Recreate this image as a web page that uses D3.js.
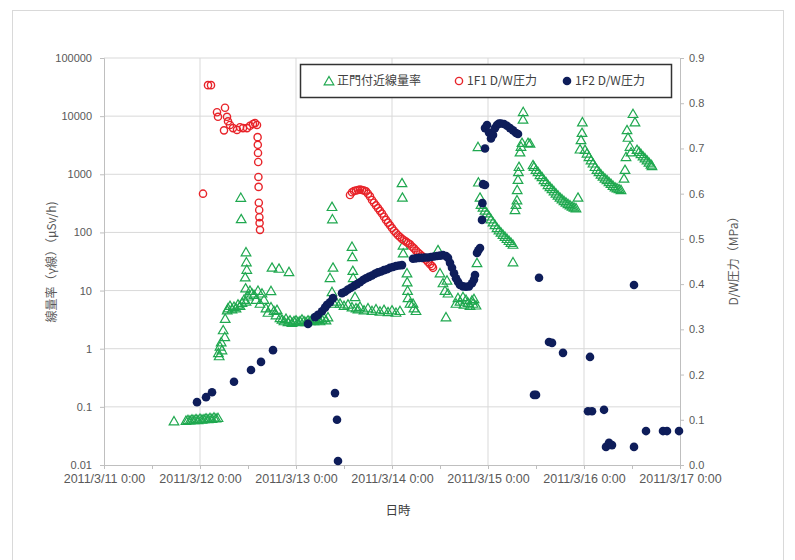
<!DOCTYPE html>
<html>
<head>
<meta charset="utf-8">
<script src="https://cdn.jsdelivr.net/npm/d3@7"></script>
<style>
  body { margin: 0; background: #fff; }
  svg text { font-family: "Noto Sans CJK JP", "Noto Sans", sans-serif; }
</style>
</head>
<body>
<div id="chart"></div>
<script>
// hours since 2011/3/11 0:00, value
const dayLabels = ["2011/3/11 0:00", "2011/3/12 0:00", "2011/3/13 0:00", "2011/3/14 0:00",
  "2011/3/15 0:00", "2011/3/16 0:00", "2011/3/17 0:00"];
const doseTicks = [0.01, 0.1, 1, 10, 100, 1000, 10000, 100000];
const pressTicks = [0, 0.1, 0.2, 0.3, 0.4, 0.5, 0.6, 0.7, 0.8, 0.9];
const seriesNames = ["正門付近線量率", "1F1 D/W圧力", "1F2 D/W圧力"];

// 正門付近線量率 (μSv/h)
const gateDose = [
  [17.5,0.057],
  [20.5,0.058],[21,0.060],[21.5,0.059],[22,0.061],[22.5,0.060],[23,0.062],[23.5,0.060],[24,0.063],
  [24.5,0.061],[25,0.062],[25.5,0.064],[26,0.062],[26.5,0.065],[27,0.063],[27.5,0.066],[28,0.064],[28.5,0.065],
  [28.6,0.85],[28.8,0.75],[29,1.1],[29.3,1.3],[29.5,0.95],[29.8,2.1],[30.2,1.6],[30.3,3.3],[30.8,4.6],
  [31,5.0],[31.5,5.5],[32,4.8],[32.5,5.3],[33,5.0],[33.5,5.8],[34,5.5],[34.5,6.2],[35,7.0],[35.5,6.5],[36,8.0],[36.5,10],
  [34.2,398],[34.3,171],[35.3,17],[35.4,11],[35.5,46],[35.6,31],[35.7,23],
  [37,9],[37.5,8.5],[38,7],[38.5,10],[39,6],[39.5,9],[40,7],[40.5,5],[41,4.2],[41.75,9.9],[41.75,5.2],[42,25],
  [42.5,4.5],[43,3.8],[43.25,4.7],[43.75,24],[44,3.4],[44.5,3.2],[45,3.0],[46.25,21],[45.5,3.3],[46,2.9],
  [46.5,3.1],[47,2.8],[47.5,3.0],[48,3.1],[48.5,2.9],[49,3.0],[49.5,3.2],[50,3.0],[50.5,2.9],[51,3.1],
  [51.5,3.0],[52,3.2],[52.5,3.0],[53,3.1],[53.5,3.3],[54,3.0],[54.5,3.2],[55,3.4],[55.5,3.1],[56,3.5],
  [56.5,16.6],[57,9.5],[57,277],[57.1,170],[57.25,25],[57.5,6],[58,6.5],[59,6.0],[60,5.5],[61,5.8],[62,5.2],
  [62,57],[62.1,38],[62.2,22],[62.3,16.6],[62.75,7.8],[63,5.0],[63.5,4.8],[64,5.3],[65,4.6],[66,5.0],[67,4.5],
  [68,4.8],[69,4.4],[70,4.7],[71,4.3],[72,4.6],[73,4.2],[74,4.5],
  [74.5,710],[74.6,400],[74.75,60],[74.8,44],[75.75,20],[75.8,14],[75.9,10],[76,7.5],[76.5,6],[77.25,6],[77.5,5],[78,4.5],
  [83.5,50],[84,20],[84.75,13.5],[85.25,10],[85.5,3.5],[85.75,15],[86,9],
  [88,6],[88.5,7.5],[89,6.5],[89.75,7.8],[90,5.8],[90.5,7],[91,6.2],[91.5,5.5],[92,6.8],[92.25,6],[92.5,7.2],[93,5.6],
  [93.25,30],[93.5,2970],[93.6,730],[94,400],
  [94.25,300],[94.75,270],[95.25,240],[95.75,215],[96.25,190],[96.75,170],[97.25,150],[97.75,135],[98.25,120],
  [98.75,110],[99.25,100],[99.75,92],[100.25,85],[100.75,78],[101.25,72],[101.75,67],[102.25,62],[102.25,31],
  [102.75,245],[103,300],[103.25,360],[103.3,540],[103.5,810],[103.6,1100],[103.75,1350],[104,2400],[104.25,3000],
  [104.5,3500],[104.75,8800],[104.8,11900],[106,3500],[106.5,3400],
  [107.25,1450],[107.5,1350],[108,1200],[108.5,1100],[109,980],[109.5,900],[110,800],[110.5,740],[111,660],
  [111.5,610],[112,560],[112.5,515],[113,470],[113.5,435],[114,400],[114.5,375],[115,350],[115.5,330],[116,310],
  [116.5,295],[117,280],[117.5,270],[118,262],[118.5,400],
  [119,2700],[119.25,3900],[119.5,5200],[119.6,7900],
  [120.25,2650],[120.75,2300],[121.25,2000],[121.75,1750],[122.25,1550],[122.75,1350],[123.25,1200],[123.75,1100],
  [124.25,1000],[124.75,920],[125.25,850],[125.75,800],[126.25,740],[126.75,690],[127.25,640],[127.75,600],
  [128.25,580],[128.75,560],[129.25,540],
  [130,850],[130.25,1200],[130.5,2000],[130.75,5800],[131,4300],[131.5,3000],[131.75,2400],[132.25,11000],[132.75,7900],
  [133.25,2650],[133.75,2450],[134.25,2250],[134.75,2050],[135.25,1900],[135.75,1750],[136.25,1600],[136.75,1480],[137,1400]
];

// 1F1 D/W圧力 (MPa)
const unit1Pressure = [
  [24.75,0.60],[26,0.84],[26.75,0.84],[28.25,0.78],[28.5,0.77],[30,0.74],[30.25,0.79],[30.75,0.77],[31,0.76],
  [31.5,0.752],[32.25,0.745],[33.25,0.741],[34,0.747],[34.75,0.745],[35.75,0.745],[36.5,0.75],[37.25,0.754],
  [37.75,0.756],[38.25,0.752],[38.4,0.725],[38.45,0.708],[38.5,0.69],[38.55,0.67],[38.6,0.637],[38.65,0.615],
  [38.7,0.58],[38.8,0.564],[38.85,0.548],[38.9,0.535],[39,0.52],
  [61.5,0.597],[62,0.603],[62.5,0.606],[63,0.607],[63.5,0.608],[64,0.609],[64.5,0.608],[65,0.607],[65.5,0.605],
  [66,0.6],[66.5,0.594],[67,0.586],[67.5,0.58],[68,0.574],[68.5,0.568],[69,0.562],[69.5,0.556],[70,0.549],
  [70.5,0.542],[71,0.536],[71.5,0.53],[72,0.524],[72.5,0.518],[73,0.513],[73.5,0.508],[74,0.504],[74.5,0.5],
  [75,0.497],[75.5,0.494],[76,0.491],[76.5,0.488],[77,0.483],[77.5,0.479],[78,0.474],[78.5,0.47],[79,0.466],
  [79.5,0.462],[80,0.458],[80.5,0.454],[81,0.449],[81.5,0.444],[82,0.44],[82.25,0.436]
];

// 1F2 D/W圧力 (MPa)
const unit2Pressure = [
  [23.25,0.139],[25.5,0.15],[27,0.161],[32.5,0.184],[36.75,0.21],[39.25,0.228],[42.25,0.254],
  [51,0.312],[52.75,0.327],[53.5,0.332],[54.5,0.34],[55.25,0.348],[55.75,0.354],[56.5,0.36],[57.25,0.369],
  [57.75,0.159],[58.25,0.10],[58.5,0.009],
  [59.5,0.38],[60.25,0.383],[61,0.388],[61.75,0.392],[62.5,0.396],[63.25,0.4],[64,0.404],[64.75,0.409],
  [65.5,0.413],[66.25,0.416],[67,0.419],[67.75,0.423],[68.5,0.426],[69.25,0.428],[70,0.431],[70.75,0.433],
  [71.5,0.436],[72.25,0.438],[73,0.44],[73.75,0.441],[74.5,0.442],
  [77.25,0.456],[78,0.457],[78.75,0.458],[79.5,0.458],[80.25,0.459],[81,0.459],[81.75,0.46],[82.5,0.461],
  [83.25,0.462],[84,0.463],[84.75,0.464],[85.5,0.462],[86,0.458],[86.5,0.447],[87,0.436],[87.5,0.424],
  [88,0.413],[88.5,0.405],[89,0.398],[89.75,0.395],[90.5,0.394],[91.25,0.395],[92,0.402],[92.5,0.41],
  [92.75,0.42],[93.25,0.469],[93.6,0.475],[94,0.48],[94.5,0.542],[94.6,0.579],[94.75,0.621],[95.25,0.619],
  [95.25,0.70],[95.25,0.745],[95.75,0.752],[96.25,0.735],[96.75,0.722],[97.25,0.73],[97.75,0.745],[98.25,0.752],
  [98.75,0.755],[99.25,0.755],[100,0.754],[100.75,0.75],[101.5,0.745],[102.25,0.74],[103,0.734],[103.5,0.732],
  [107.5,0.155],[108,0.155],[108.75,0.414],[111.25,0.272],[112,0.27],[114.75,0.248],
  [121,0.119],[121.5,0.239],[122,0.119],[125,0.122],[125.5,0.04],[126.25,0.049],[127,0.044],
  [132.5,0.398],[132.5,0.04],[135.5,0.075],[139.75,0.075],[140.75,0.075],[143.75,0.075]
];

const W = 795, H = 560;
const m = {left: 104, right: 680, top: 58, bottom: 465};
const green = "#1fa84f", red = "#e8242a", navy = "#0e1d5a", grid = "#d9d9d9", tickColor = "#595959";

const svg = d3.select("#chart").append("svg")
  .attr("width", W).attr("height", H);

svg.append("rect").attr("x", 12.5).attr("y", 10.5).attr("width", 771).attr("height", 570)
  .attr("fill", "#fff").attr("stroke", grid);

const x = d3.scaleLinear().domain([0, 144]).range([m.left, m.right]);
const yL = d3.scaleLog().domain([0.01, 100000]).range([m.bottom, m.top]);
const yR = d3.scaleLinear().domain([0, 0.9]).range([m.bottom, m.top]);

// gridlines
svg.append("g").selectAll("line").data(doseTicks.slice(1)).join("line")
  .attr("x1", m.left).attr("x2", m.right)
  .attr("y1", d => yL(d)).attr("y2", d => yL(d))
  .attr("stroke", grid);
svg.append("g").selectAll("line").data(d3.range(1, 6)).join("line")
  .attr("x1", d => x(d * 24)).attr("x2", d => x(d * 24))
  .attr("y1", m.top).attr("y2", m.bottom)
  .attr("stroke", grid);

// axes
const fmtDose = d => String(d);
const axL = svg.append("g").attr("transform", `translate(${m.left},0)`)
  .call(d3.axisLeft(yL).tickValues(doseTicks).tickFormat(fmtDose).tickSize(4).tickPadding(8));
const axR = svg.append("g").attr("transform", `translate(${m.right},0)`)
  .call(d3.axisRight(yR).tickValues(pressTicks).tickFormat(d3.format(".1f")).tickSize(4).tickPadding(5));
const axB = svg.append("g").attr("transform", `translate(0,${m.bottom})`)
  .call(d3.axisBottom(x).tickValues(d3.range(0, 145, 12)).tickSize(4)
    .tickFormat(d => d % 24 === 0 ? dayLabels[d / 24] : "").tickPadding(5));
[axL, axR, axB].forEach(g => {
  g.select(".domain").attr("stroke", "#bfbfbf");
  g.selectAll(".tick line").attr("stroke", "#bfbfbf");
  g.selectAll("text").attr("fill", tickColor).attr("font-size", 11)
    .style("font-family", "'Liberation Sans Narrow', 'Liberation Sans', sans-serif");
});
axB.selectAll("text").attr("font-size", 12.5);

// markers
const tri = d3.symbol().type(d3.symbolTriangle).size(40);
svg.append("g").selectAll("path").data(gateDose).join("path")
  .attr("d", tri)
  .attr("transform", d => `translate(${x(d[0])},${yL(d[1]) + 1})`)
  .attr("fill", "none").attr("stroke", green).attr("stroke-width", 1.2);

svg.append("g").selectAll("circle").data(unit1Pressure).join("circle")
  .attr("cx", d => x(d[0])).attr("cy", d => yR(d[1])).attr("r", 3.6)
  .attr("fill", "none").attr("stroke", red).attr("stroke-width", 1.4);

svg.append("g").selectAll("circle").data(unit2Pressure).join("circle")
  .attr("cx", d => x(d[0])).attr("cy", d => yR(d[1])).attr("r", 4.3)
  .attr("fill", navy);

// axis titles
svg.append("text").attr("transform", "translate(56,262) rotate(-90)")
  .attr("text-anchor", "middle").attr("font-size", 12).attr("fill", tickColor)
  .text("線量率（γ線）（μSv/h)");
svg.append("text").attr("transform", "translate(738,258) rotate(-90)")
  .attr("text-anchor", "middle").attr("font-size", 12).attr("fill", tickColor)
  .text("D/W圧力（MPa）");
svg.append("text").attr("x", 398).attr("y", 515)
  .attr("text-anchor", "middle").attr("font-size", 12.5).attr("fill", "#404040")
  .text("日時");

// legend
const leg = svg.append("g");
leg.append("rect").attr("x", 300.5).attr("y", 64.5).attr("width", 371).attr("height", 33)
  .attr("fill", "#fff").attr("stroke", "#333").attr("stroke-width", 1.5);
const legItems = [
  {x: 329, name: seriesNames[0], kind: "tri"},
  {x: 459, name: seriesNames[1], kind: "open"},
  {x: 567, name: seriesNames[2], kind: "dot"}
];
legItems.forEach(it => {
  if (it.kind === "tri") {
    leg.append("path").attr("d", tri).attr("transform", `translate(${it.x},82)`)
      .attr("fill", "none").attr("stroke", green).attr("stroke-width", 1.2);
  } else if (it.kind === "open") {
    leg.append("circle").attr("cx", it.x).attr("cy", 81).attr("r", 3.6)
      .attr("fill", "none").attr("stroke", red).attr("stroke-width", 1.4);
  } else {
    leg.append("circle").attr("cx", it.x).attr("cy", 81).attr("r", 4.3).attr("fill", navy);
  }
  leg.append("text").attr("x", it.x + 8).attr("y", 85)
    .attr("font-size", 12).attr("fill", "#404040").text(it.name);
});
</script>
</body>
</html>
